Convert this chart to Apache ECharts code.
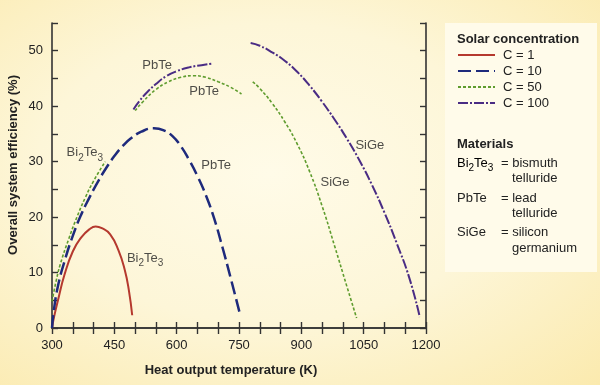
<!DOCTYPE html>
<html><head><meta charset="utf-8">
<script src="https://cdn.jsdelivr.net/npm/echarts@6/dist/echarts.min.js"></script>
<style>
html,body{margin:0;padding:0;}
body{width:600px;height:385px;background:radial-gradient(ellipse at 45% 45%, #fffbe8 0%, #fdf6d8 50%, #fbeaae 100%);}
#chart{width:600px;height:385px;}
</style>
</head><body><div id="chart"></div>
<script>
// ---- tick labels ----
const xTickLabels = [300, 450, 600, 750, 900, 1050, 1200];
const yTickLabels = [0, 10, 20, 30, 40, 50];

// ---- C = 1 (Bi2Te3) ----
const c1Temp = [300, 305, 315, 330, 350, 370, 390, 405, 420, 440, 460, 475, 485, 493];
const c1Eff  = [0, 2, 5.2, 9.6, 13.8, 16.3, 17.8, 18.3, 18.0, 16.9, 14, 10.5, 6.8, 2.3];

// ---- C = 10 (PbTe) ----
const c10Temp = [300, 305, 315, 330, 350, 370, 390, 410, 430, 450, 470, 490, 515, 545, 570, 590, 610, 630, 650, 670, 690, 710, 730, 752];
const c10Eff  = [0, 3.5, 7.8, 12, 16.6, 20.4, 23.5, 26.3, 28.8, 31, 32.8, 34.2, 35.4, 36, 35.6, 34.6, 32.8, 30.3, 27.4, 24, 19.8, 14.6, 9, 2.6];

// ---- C = 50 ----
const c50BiTemp = [300, 310, 320, 340, 360, 380, 400, 428];
const c50BiEff  = [4.8, 8.5, 11.5, 16, 20, 23.5, 26.5, 30];
const c50PbTemp = [500, 520, 550, 580, 610, 640, 670, 700, 730, 756];
const c50PbEff  = [39.2, 40.9, 43, 44.4, 45.2, 45.5, 45.2, 44.4, 43.4, 42.2];
const c50SiTemp = [783, 800, 830, 860, 890, 920, 950, 980, 1010, 1033];
const c50SiEff  = [44.4, 43.2, 40.5, 37.2, 33.2, 28.2, 22, 14.8, 7.4, 1.8];

// ---- C = 100 ----
const c100PbTemp = [496, 510, 530, 550, 575, 600, 630, 660, 688];
const c100PbEff  = [39.4, 40.9, 42.6, 44, 45.4, 46.3, 47, 47.4, 47.7];
const c100SiTemp = [778, 800, 830, 860, 890, 920, 950, 980, 1010, 1040, 1070, 1100, 1130, 1160, 1185];
const c100SiEff  = [51.4, 50.9, 49.7, 48.2, 46.2, 43.7, 40.8, 37.6, 34.1, 30.2, 25.8, 20.8, 15.2, 9, 2];

// ---- annotations ----
const annotText = ['PbTe', 'PbTe', 'Bi{s|2}Te{s|3}', 'PbTe', 'Bi{s|2}Te{s|3}', 'SiGe', 'SiGe'];
const annotTemp = [553, 666, 379, 695, 524, 1065, 981];
const annotEff  = [47.4, 42.6, 31.6, 29.4, 12.6, 33, 26.2];

const FONT = '"Liberation Sans", Arial, sans-serif';
const TXT = '#222';
const zip = (a, b) => a.map((v, i) => [v, b[i]]);

const styles = {
  'C = 1':   {color: '#b5392e', width: 2, type: 'solid'},
  'C = 10':  {color: '#1e2a7c', width: 2.5, type: [13, 5]},
  'C = 50':  {color: '#5f9c2e', width: 1.6, type: [3, 2]},
  'C = 100': {color: '#4a2c84', width: 2, type: [10, 2, 2, 2]}
};
function lineSeries(name, t, e) {
  const s = styles[name];
  return {
    name, type: 'line', data: zip(t, e), smooth: 0.5, symbol: 'none',
    lineStyle: {color: s.color, width: s.width, type: s.type},
    itemStyle: {color: s.color}, silent: true, z: 3
  };
}

const rich = {
  n: {fontSize: 13, fontFamily: FONT, color: TXT, lineHeight: 16},
  s: {fontSize: 10, fontFamily: FONT, color: TXT, padding: [10, 0, 0, 0]}
};
function richify(t) { return t.replace(/^([^{]+)/, '{n|$1}').replace(/\}([A-Za-z]+)\{/g, '}{n|$1}{'); }

const chart = echarts.init(document.getElementById('chart'), null, {renderer: 'canvas'});
const axisLine = {show: true, lineStyle: {color: '#333', width: 1.6}};
const tickInside = {show: true, inside: true, length: 6, lineStyle: {color: '#333', width: 1.4}};

chart.setOption({
  backgroundColor: 'transparent',
  animation: false,
  grid: {left: 52, right: 174, top: 23, bottom: 57, containLabel: false},
  xAxis: [
    {type: 'value', min: 300, max: 1200, interval: 50, position: 'bottom',
     axisLine, axisTick: tickInside, splitLine: {show: false},
     axisLabel: {margin: 11, fontSize: 13, fontFamily: FONT, color: TXT,
       formatter: v => xTickLabels.includes(v) ? String(v) : ''}},
    {type: 'value', min: 300, max: 1200, interval: 50, position: 'top',
     axisLine, axisTick: tickInside, splitLine: {show: false}, axisLabel: {show: false}}
  ],
  yAxis: [
    {type: 'value', min: 0, max: 55, interval: 5, position: 'left',
     axisLine, axisTick: tickInside, splitLine: {show: false},
     axisLabel: {margin: 9, fontSize: 13, fontFamily: FONT, color: TXT,
       formatter: v => yTickLabels.includes(v) ? String(v) : ''}},
    {type: 'value', min: 0, max: 55, interval: 5, position: 'right',
     axisLine, axisTick: tickInside, splitLine: {show: false}, axisLabel: {show: false}}
  ],
  legend: {
    orient: 'vertical', left: 457, top: 48, itemWidth: 37, itemHeight: 14, itemGap: 2,
    selectedMode: false, padding: 0,
    itemStyle: {opacity: 0},
    data: ['C = 1', 'C = 10', 'C = 50', 'C = 100'],
    textStyle: {fontSize: 13, fontFamily: FONT, color: TXT, lineHeight: 14, padding: [0, 0, 0, 3]}
  },
  graphic: [
    {type: 'rect', shape: {x: 445, y: 23, width: 152, height: 249}, style: {fill: '#fffbea'}, z: 0, silent: true},
    {type: 'text', x: 457, y: 39, style: {text: 'Solar concentration', font: 'bold 13px ' + FONT, fill: TXT, verticalAlign: 'middle'}},
    {type: 'text', x: 457, y: 144, style: {text: 'Materials', font: 'bold 13px ' + FONT, fill: TXT, verticalAlign: 'middle'}},
    {type: 'text', x: 457, y: 163, style: {text: '{n|Bi}{s|2}{n|Te}{s|3}', rich, verticalAlign: 'middle'}},
    {type: 'text', x: 501, y: 163, style: {text: '= bismuth', font: '13px ' + FONT, fill: TXT, verticalAlign: 'middle'}},
    {type: 'text', x: 512, y: 178, style: {text: 'telluride', font: '13px ' + FONT, fill: TXT, verticalAlign: 'middle'}},
    {type: 'text', x: 457, y: 198, style: {text: 'PbTe', font: '13px ' + FONT, fill: TXT, verticalAlign: 'middle'}},
    {type: 'text', x: 501, y: 198, style: {text: '= lead', font: '13px ' + FONT, fill: TXT, verticalAlign: 'middle'}},
    {type: 'text', x: 512, y: 213, style: {text: 'telluride', font: '13px ' + FONT, fill: TXT, verticalAlign: 'middle'}},
    {type: 'text', x: 457, y: 232, style: {text: 'SiGe', font: '13px ' + FONT, fill: TXT, verticalAlign: 'middle'}},
    {type: 'text', x: 501, y: 232, style: {text: '= silicon', font: '13px ' + FONT, fill: TXT, verticalAlign: 'middle'}},
    {type: 'text', x: 512, y: 248, style: {text: 'germanium', font: '13px ' + FONT, fill: TXT, verticalAlign: 'middle'}},
    {type: 'text', x: 231, y: 370, style: {text: 'Heat output temperature (K)', font: 'bold 13px ' + FONT, fill: TXT, align: 'center', verticalAlign: 'middle'}},
    {type: 'text', x: 13, y: 165, rotation: Math.PI / 2, style: {text: 'Overall system efficiency (%)', font: 'bold 13px ' + FONT, fill: TXT, align: 'center', verticalAlign: 'middle'}}
  ],
  series: [
    lineSeries('C = 1', c1Temp, c1Eff),
    lineSeries('C = 10', c10Temp, c10Eff),
    lineSeries('C = 50', c50BiTemp, c50BiEff),
    lineSeries('C = 50', c50PbTemp, c50PbEff),
    lineSeries('C = 50', c50SiTemp, c50SiEff),
    lineSeries('C = 100', c100PbTemp, c100PbEff),
    lineSeries('C = 100', c100SiTemp, c100SiEff),
    {
      name: 'labels', type: 'scatter', symbolSize: 1, silent: true,
      itemStyle: {color: 'rgba(0,0,0,0)'},
      data: annotTemp.map((t, i) => ({value: [t, annotEff[i]], name: annotText[i]})),
      label: {show: true, position: 'inside', formatter: p => richify(p.name), rich}
    }
  ]
});
</script>
</body></html>
